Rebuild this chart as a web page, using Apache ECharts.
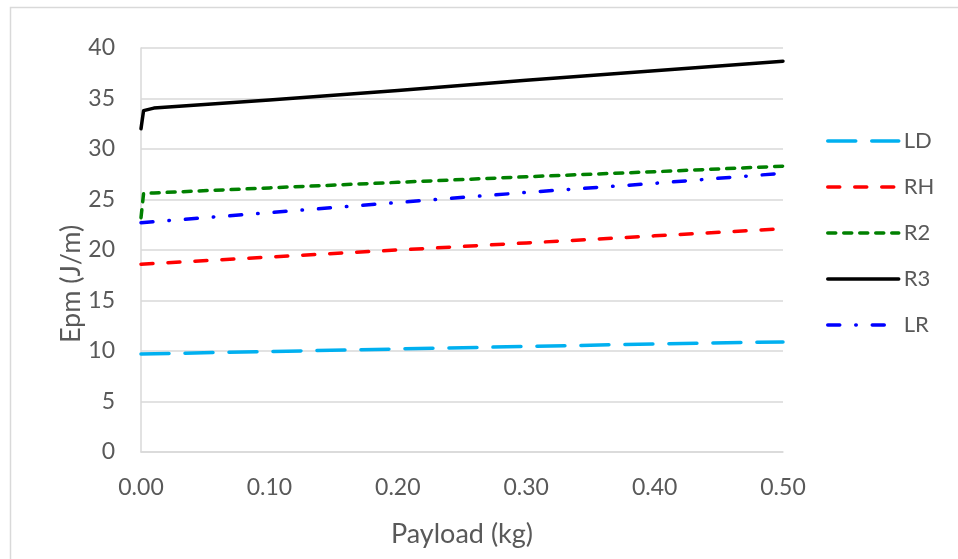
<!DOCTYPE html>
<html>
<head>
<meta charset="utf-8">
<script src="https://cdn.jsdelivr.net/npm/echarts@6/dist/echarts.min.js"></script>
<style>
  html, body { margin: 0; padding: 0; background: #fff; }
  #chart { width: 958px; height: 559px; }
</style>
</head>
<body>
<div id="chart"></div>
<script>
// Energy per metre versus payload for each gait
const payloadCoarse = [0, 0.1, 0.2, 0.3, 0.4, 0.5];
const payloadFine = [0, 0.002, 0.01, 0.1, 0.2, 0.3, 0.4, 0.5];

const ldValues = [9.7, 9.95, 10.2, 10.45, 10.7, 10.9];
const rhValues = [18.6, 19.3, 20.0, 20.7, 21.4, 22.1];
const r2Values = [23.2, 25.6, 25.65, 26.15, 26.7, 27.25, 27.75, 28.3];
const r3Values = [32.0, 33.8, 34.05, 34.85, 35.8, 36.8, 37.75, 38.7];
const lrValues = [22.7, 23.7, 24.7, 25.7, 26.6, 27.6];

const yTicks = [0, 5, 10, 15, 20, 25, 30, 35, 40];
const xTicks = [0, 0.1, 0.2, 0.3, 0.4, 0.5];

const pairs = (xs, ys) => xs.map((x, i) => [x, ys[i]]);

const font = 'Lato, "Noto Sans", sans-serif';
const textGrey = '#595959';
const gridGrey = '#d9d9d9';
const lineW = 3.5;

function lineSeries(name, xs, ys, color, dash) {
  return {
    name: name,
    type: 'line',
    data: pairs(xs, ys),
    showSymbol: false,
    symbol: 'none',
    smooth: false,
    lineStyle: { color: color, width: lineW, type: dash, cap: 'round', join: 'round' },
    itemStyle: { color: color }
  };
}

const chart = echarts.init(document.getElementById('chart'));
chart.setOption({
  animation: false,
  backgroundColor: '#fff',
  graphic: [{
    type: 'rect',
    shape: { x: 10.5, y: 7.5, width: 960, height: 560 },
    style: { fill: 'none', stroke: gridGrey, lineWidth: 1.5 },
    silent: true
  }],
  grid: { left: 141, right: 175, top: 48, bottom: 107 },
  legend: {
    orient: 'vertical',
    left: 821,
    top: 125,
    itemWidth: 71,
    itemHeight: 14,
    itemGap: 24,
    itemStyle: { opacity: 0 },
    lineStyle: { width: lineW },
    textStyle: { fontFamily: font, fontSize: 22, color: textGrey, lineHeight: 22 },
    data: ['LD', 'RH', 'R2', 'R3', 'LR']
  },
  xAxis: {
    type: 'value',
    min: xTicks[0],
    max: xTicks[xTicks.length - 1],
    interval: 0.1,
    name: 'Payload (kg)',
    nameLocation: 'middle',
    nameGap: 69,
    nameMoveOverlap: false,
    nameTextStyle: { fontFamily: font, fontSize: 27, color: textGrey },
    axisLine: { lineStyle: { color: gridGrey, width: 1.5 } },
    axisTick: { show: false },
    splitLine: { show: false },
    axisLabel: {
      fontFamily: font, fontSize: 23, color: textGrey, margin: 24,
      formatter: v => v.toFixed(2)
    }
  },
  yAxis: {
    type: 'value',
    min: yTicks[0],
    max: yTicks[yTicks.length - 1],
    interval: 5,
    name: 'Epm (J/m)',
    nameLocation: 'middle',
    nameGap: 56,
    nameMoveOverlap: false,
    nameTextStyle: { fontFamily: font, fontSize: 27, color: textGrey, padding: [0, 68, 0, 0] },
    axisLine: { show: true, lineStyle: { color: gridGrey, width: 1.5 } },
    axisTick: { show: false },
    splitLine: { lineStyle: { color: gridGrey, width: 1.5 } },
    axisLabel: { fontFamily: font, fontSize: 23, color: textGrey, margin: 26 }
  },
  series: [
    lineSeries('LD', payloadCoarse, ldValues, '#00B0F0', [28, 16]),
    lineSeries('RH', payloadCoarse, rhValues, '#FF0000', [12, 15]),
    lineSeries('R2', payloadFine, r2Values, '#008000', [8, 8]),
    lineSeries('R3', payloadFine, r3Values, '#000000', 'solid'),
    lineSeries('LR', payloadCoarse, lrValues, '#0000FF', [12, 16, 0.5, 16])
  ]
});
</script>
</body>
</html>
